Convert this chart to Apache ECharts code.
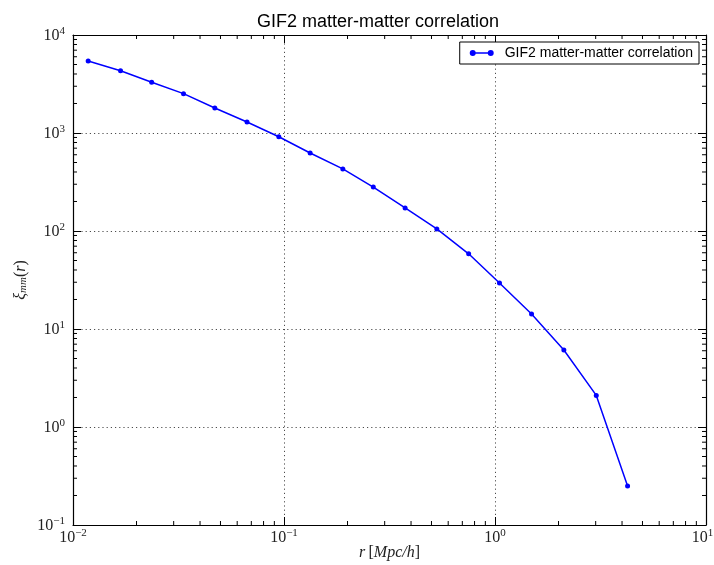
<!DOCTYPE html>
<html>
<head>
<meta charset="utf-8">
<script src="https://cdn.jsdelivr.net/npm/echarts@6/dist/echarts.min.js"></script>
<style>
  html, body { margin: 0; padding: 0; background: #fff; }
  #chart { width: 714px; height: 565px; }
</style>
</head>
<body>
<div id="chart"></div>
<script>
// Separation r [Mpc/h] of each bin
var radii = [0.0118, 0.0168, 0.0236, 0.0334, 0.0470, 0.0668, 0.0945, 0.1330, 0.1900,
             0.2650, 0.3750, 0.5300, 0.7500, 1.0500, 1.4900, 2.1200, 3.0200, 4.2500];
// Matter-matter correlation function xi_mm(r)
var xiMM = [5430, 4320, 3290, 2520, 1800, 1295, 916, 625, 430,
            281, 172, 105, 58.5, 29.5, 14.2, 6.1, 2.1, 0.25];

var seriesName = 'GIF2 matter-matter correlation';
var xRange = [0.01, 10];
var yRange = [0.1, 10000];
// Decades that carry the 2..9 minor ticks
var xDecades = [0.01, 0.1, 1];
var yDecades = [0.1, 1, 10, 100, 1000];
var minorSteps = [2, 3, 4, 5, 6, 7, 8, 9];

var minorTicks = [];
xDecades.forEach(function (d) {
  minorSteps.forEach(function (m) { minorTicks.push([d * m, yRange[0], 0]); });
});
yDecades.forEach(function (d) {
  minorSteps.forEach(function (m) { minorTicks.push([xRange[0], d * m, 1]); });
});

var points = radii.map(function (r, i) { return [r, xiMM[i]]; });

var mathFont = '"Liberation Serif", "DejaVu Serif", serif';
function powerText(v) {
  var e = Math.round(Math.log10(v));
  return e < 0 ? '\u2212' + (-e) : String(e);
}
function powerLabel(v) {
  return '{b|10}{s|' + powerText(v) + '}';
}
// the last x label is nudged left so it stays inside the canvas
function xPowerLabel(v) {
  var tail = v >= xRange[1] ? '{pad|}' : '';
  return '{b|10}{s|' + powerText(v) + '}' + tail;
}
var powerRich = {
  b: { fontFamily: mathFont, fontSize: 16, color: '#222', verticalAlign: 'bottom', lineHeight: 17 },
  s: { fontFamily: mathFont, fontSize: 11, color: '#222', verticalAlign: 'bottom', lineHeight: 17, padding: [0, 0, 7, 0] },
  pad: { width: 7, lineHeight: 17 }
};

var gridLine = { show: true, lineStyle: { color: '#000', width: 0.7, type: [1.2, 3] } };
var axisLine = { show: true, lineStyle: { color: '#000', width: 1.2 } };
var majorTick = { show: true, inside: true, length: 8, lineStyle: { color: '#000', width: 1 } };

var chart = echarts.init(document.getElementById('chart'), null, { renderer: 'canvas' });
chart.setOption({
  animation: false,
  backgroundColor: '#fff',
  title: {
    text: 'GIF2 matter-matter correlation',
    left: 252,
    top: 8,
    textStyle: { fontFamily: '"Liberation Sans", Arial, sans-serif', fontSize: 18, fontWeight: 'normal', color: '#000' }
  },
  grid: { left: 73, right: 8, top: 35, bottom: 40, containLabel: false, outerBoundsMode: 'none' },
  legend: {
    data: [seriesName],
    right: 15,
    top: 42,
    orient: 'vertical',
    backgroundColor: '#fff',
    borderColor: '#000',
    borderWidth: 1,
    borderRadius: 0,
    padding: [4, 6, 4, 10],
    itemWidth: 24,
    itemHeight: 6,
    itemGap: 4,
    icon: 'path://M0,3A3,3,0,1,1,6,3A3,3,0,1,1,0,3Z M3,2.2H21V3.8H3Z M18,3A3,3,0,1,1,24,3A3,3,0,1,1,18,3Z',
    textStyle: { fontFamily: '"Liberation Sans", Arial, sans-serif', fontSize: 14, color: '#000', padding: [0, 0, 0, 6] }
  },
  xAxis: [{
    type: 'log', logBase: 10, min: xRange[0], max: xRange[1],
    position: 'bottom',
    axisLine: axisLine, axisTick: majorTick, splitLine: gridLine,
    axisLabel: { margin: 4, formatter: xPowerLabel, rich: powerRich },
    name: '{i|r} {u|[}{i|Mpc/h}{u|]}',
    nameLocation: 'middle', nameGap: 20, nameMoveOverlap: false,
    nameTextStyle: {
      rich: {
        i: { fontFamily: mathFont, fontStyle: 'italic', fontSize: 16, color: '#222' },
        u: { fontFamily: mathFont, fontSize: 16, color: '#222' }
      }
    }
  }, {
    type: 'log', logBase: 10, min: xRange[0], max: xRange[1],
    position: 'top',
    axisLine: axisLine, axisTick: majorTick, splitLine: { show: false },
    axisLabel: { show: false }
  }],
  yAxis: [{
    type: 'log', logBase: 10, min: yRange[0], max: yRange[1],
    position: 'left',
    axisLine: axisLine, axisTick: majorTick, splitLine: gridLine,
    axisLabel: { margin: 8, formatter: powerLabel, rich: powerRich },
    name: '{i|\u03be}{m|mm}{u|(}{i|r}{u|)}',
    nameLocation: 'middle', nameGap: 44, nameRotate: 90, nameMoveOverlap: false,
    nameTextStyle: {
      rich: {
        i: { fontFamily: mathFont, fontStyle: 'italic', fontSize: 16, color: '#222', verticalAlign: 'bottom', lineHeight: 18 },
        m: { fontFamily: mathFont, fontStyle: 'italic', fontSize: 11, color: '#222', verticalAlign: 'bottom', lineHeight: 18 },
        u: { fontFamily: mathFont, fontSize: 16, color: '#222', verticalAlign: 'bottom', lineHeight: 18 }
      }
    }
  }, {
    type: 'log', logBase: 10, min: yRange[0], max: yRange[1],
    position: 'right',
    axisLine: axisLine, axisTick: majorTick, splitLine: { show: false },
    axisLabel: { show: false }
  }],
  series: [{
    name: seriesName,
    type: 'line',
    xAxisIndex: 0, yAxisIndex: 0,
    data: points,
    symbol: 'circle',
    symbolSize: 5,
    lineStyle: { color: '#0000ff', width: 1.5 },
    itemStyle: { color: '#0000ff' },
    z: 5
  }, {
    // Minor ticks on all four sides of the frame
    name: 'minor',
    type: 'custom',
    xAxisIndex: 0, yAxisIndex: 0,
    data: minorTicks,
    silent: true,
    renderItem: function (params, api) {
      var side = api.value(2);
      var len = 4;
      var a, b;
      if (side === 0) {
        a = api.coord([api.value(0), yRange[0]]);
        b = api.coord([api.value(0), yRange[1]]);
        return { type: 'group', children: [
          { type: 'line', shape: { x1: a[0], y1: a[1], x2: a[0], y2: a[1] - len }, style: { stroke: '#000', lineWidth: 1 } },
          { type: 'line', shape: { x1: b[0], y1: b[1], x2: b[0], y2: b[1] + len }, style: { stroke: '#000', lineWidth: 1 } }
        ] };
      }
      a = api.coord([xRange[0], api.value(1)]);
      b = api.coord([xRange[1], api.value(1)]);
      return { type: 'group', children: [
        { type: 'line', shape: { x1: a[0], y1: a[1], x2: a[0] + len, y2: a[1] }, style: { stroke: '#000', lineWidth: 1 } },
        { type: 'line', shape: { x1: b[0], y1: b[1], x2: b[0] - len, y2: b[1] }, style: { stroke: '#000', lineWidth: 1 } }
      ] };
    },
    z: 4
  }]
});
</script>
</body>
</html>
